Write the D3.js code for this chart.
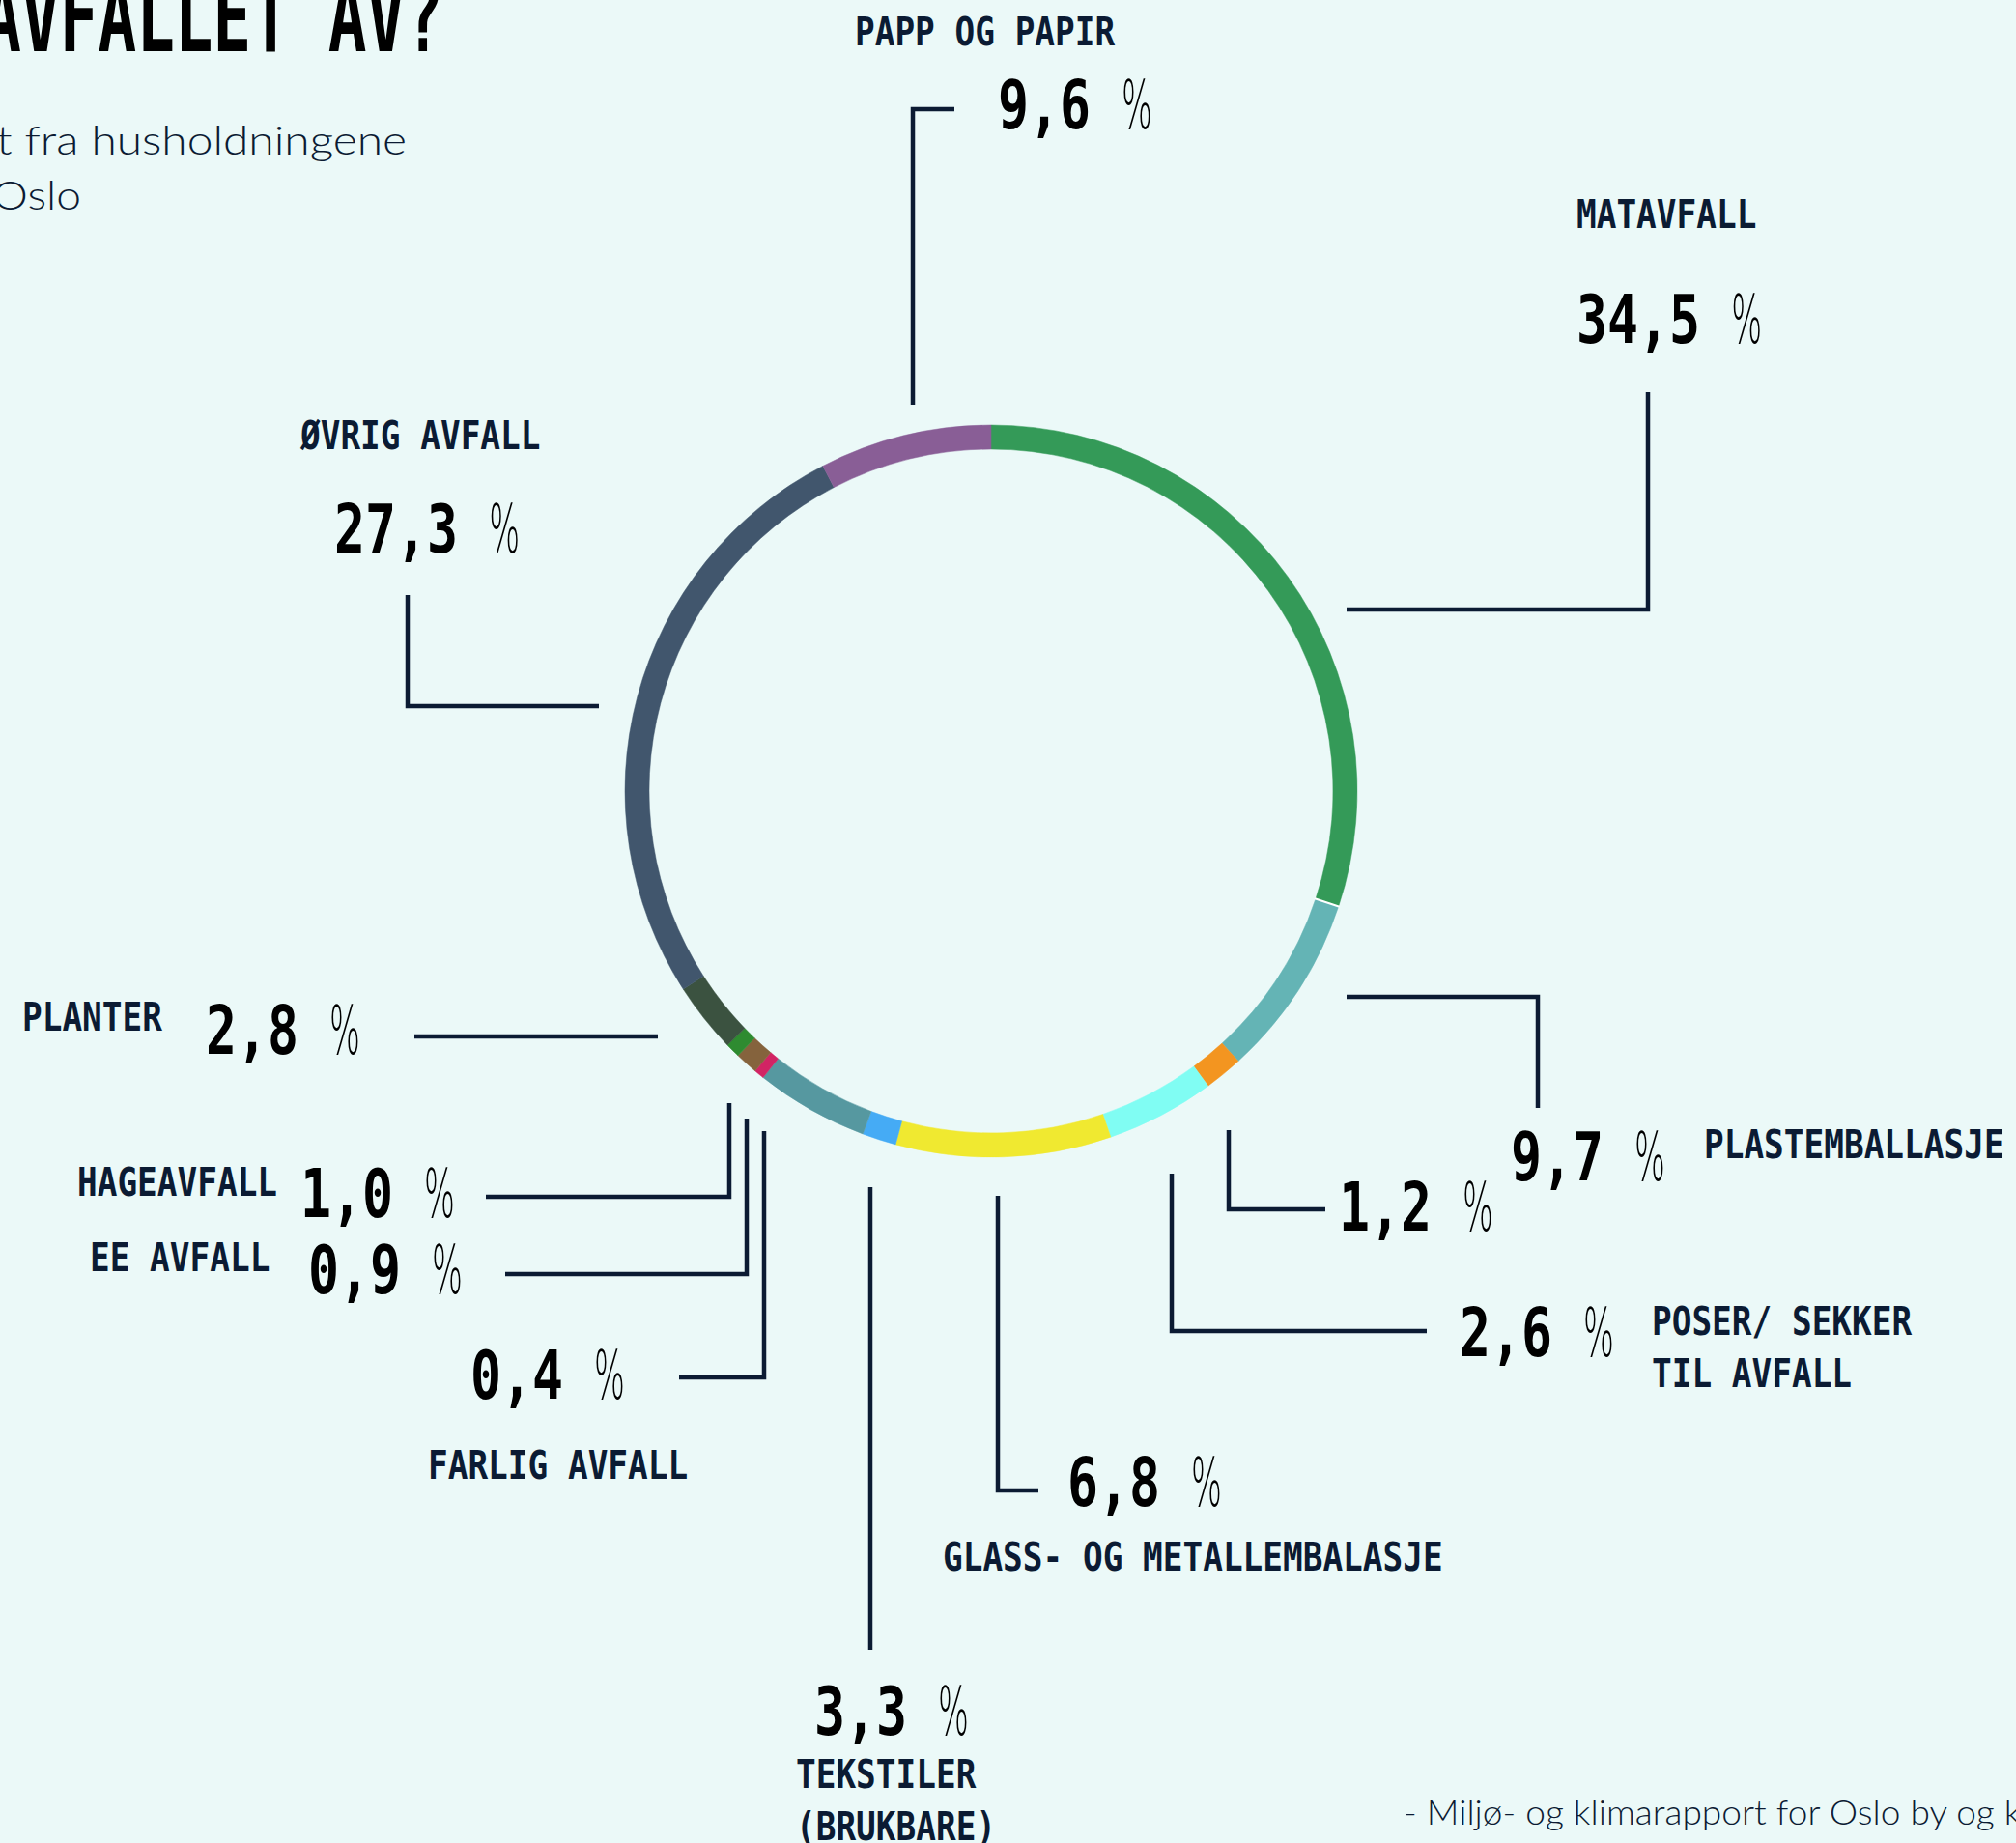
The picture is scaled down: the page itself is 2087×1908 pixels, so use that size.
<!DOCTYPE html>
<html>
<head>
<meta charset="utf-8">
<script src="https://cdnjs.cloudflare.com/ajax/libs/d3/7.8.5/d3.min.js"></script>
<style>
  html, body { margin: 0; padding: 0; background: #ebf9f8; overflow: hidden; }
  svg { display: block; }
  .mono { font-family: "DejaVu Sans Mono", "Liberation Mono", monospace; }
  .thin { font-family: Lato, "Open Sans", sans-serif; font-weight: 300; fill: #0b1b33; }
</style>
</head>
<body>
<svg width="2087" height="1908"></svg>
<script>
var arcNames = ['Matavfall', 'Plastemballasje', 'Ukjent (oransje)', 'Poser/ sekker til avfall',
    'Glass- og metallemballasje', 'Ukjent (blå)', 'Tekstiler (brukbare)', 'Farlig avfall',
    'EE avfall', 'Hageavfall', 'Planter', 'Øvrig avfall', 'Papp og papir'];
var arcShares = [30.1, 8.1, 1.7, 4.8, 9.5, 1.5, 5.0, 0.45, 1.0, 0.65, 3.1, 26.5, 7.6];
var arcColors = ['#349a58', '#64b4b5', '#f39520', '#80fdf3', '#f0e930', '#45abf5', '#5698a0',
    '#d22464', '#85633d', '#2e8b30', '#3b5240', '#41566d', '#895e96'];

// printed labels and percentages
var labelNames = ['MATAVFALL', 'PLASTEMBALLASJE', '', 'POSER/ SEKKER|TIL AVFALL',
    'GLASS- OG METALLEMBALASJE', 'TEKSTILER|(BRUKBARE)', 'FARLIG AVFALL', 'EE AVFALL',
    'HAGEAVFALL', 'PLANTER', 'ØVRIG AVFALL', 'PAPP OG PAPIR'];
var labelValues = [34.5, 9.7, 1.2, 2.6, 6.8, 3.3, 0.4, 0.9, 1.0, 2.8, 27.3, 9.6];

var svg = d3.select('svg');
var width = +svg.attr('width');
var height = +svg.attr('height');

var ink = '#0b1b33';
var cx = 1026, cy = 819;
var outerR = 379, innerR = 354;
var valSize = 70, valScale = 0.76;

// layout for each label: label pos (l), value pos (v), leader polyline (p)
var layout = [
    {l: [1632, 236], v: [1632, 355], p: [[1706, 406], [1706, 631], [1394, 631]]},
    {l: [1764, 1199], v: [1564, 1222], p: [[1394, 1032], [1592, 1032], [1592, 1147]]},
    {l: null, v: [1386, 1274], p: [[1272, 1170], [1272, 1252], [1372, 1252]]},
    {l: [1710, 1382], v: [1511, 1404], p: [[1213, 1215], [1213, 1378], [1477, 1378]]},
    {l: [976, 1626], v: [1105, 1559], p: [[1033, 1238], [1033, 1543], [1075, 1543]]},
    {l: [824, 1851], v: [843, 1796], p: [[901, 1229], [901, 1708]]},
    {l: [443, 1531], v: [487, 1448], p: [[791, 1171], [791, 1426], [703, 1426]]},
    {l: [93, 1316], v: [319, 1339], p: [[773, 1158], [773, 1319], [523, 1319]]},
    {l: [80, 1238], v: [311, 1260], p: [[755, 1142], [755, 1239], [503, 1239]]},
    {l: [23, 1067], v: [213, 1091], p: [[429, 1073], [681, 1073]]},
    {l: [311, 465], v: [346, 572], p: [[422, 616], [422, 731], [620, 731]]},
    {l: [885, 47], v: [1033, 133], p: [[988, 113], [945, 113], [945, 419]]}
];

var nb = d3.formatLocale({decimal: ',', thousands: ' ', grouping: [3], currency: ['', ' kr']});
var fmt = nb.format('.1f');

svg.append('rect')
    .attr('width', width)
    .attr('height', height)
    .attr('fill', '#ebf9f8');

// Title and subtitle (cut off at the left edge like the source)
svg.append('text')
    .attr('class', 'mono')
    .attr('transform', 'translate(459,53) scale(0.66,1)')
    .attr('text-anchor', 'end')
    .attr('font-size', 100)
    .attr('font-weight', 'bold')
    .attr('fill', '#000')
    .text('AVFALLET AV?');

svg.append('text')
    .attr('class', 'thin')
    .attr('transform', 'translate(421,160) scale(1.14,1)')
    .attr('text-anchor', 'end')
    .attr('font-size', 42)
    .text('t fra husholdningene');

svg.append('text')
    .attr('class', 'thin')
    .attr('transform', 'translate(84,217) scale(1.1,1)')
    .attr('text-anchor', 'end')
    .attr('font-size', 42)
    .text('Oslo');

// Ring
var color = d3.scaleOrdinal().domain(arcNames).range(arcColors);

var pie = d3.pie()
    .sort(null)
    .value(function(d) { return d.share; });

var arc = d3.arc()
    .innerRadius(innerR)
    .outerRadius(outerR);

var arcData = arcNames.map(function(n, i) { return {name: n, share: arcShares[i]}; });

var ringG = svg.append('g')
    .attr('transform', 'translate(' + [cx, cy] + ')');

ringG.selectAll('.slice')
    .data(pie(arcData))
    .enter()
    .append('path')
    .attr('class', 'slice')
    .attr('d', arc)
    .attr('fill', function(d) { return color(d.data.name); })
    .attr('stroke', function(d) { return color(d.data.name); })
    .attr('stroke-width', 0.5);

// small white notch between matavfall and plast
var notch = pie(arcData)[1].startAngle;
ringG.append('line')
    .attr('x1', Math.sin(notch) * (innerR - 1))
    .attr('y1', -Math.cos(notch) * (innerR - 1))
    .attr('x2', Math.sin(notch) * (outerR + 1))
    .attr('y2', -Math.cos(notch) * (outerR + 1))
    .attr('stroke', '#ffffff')
    .attr('stroke-width', 2);

// Leaders and labels
var line = d3.line();
var labelG = svg.append('g');

labelNames.forEach(function(name, i) {
    var pos = layout[i];
    var num = fmt(labelValues[i]);

    labelG.append('path')
        .attr('d', line(pos.p))
        .attr('fill', 'none')
        .attr('stroke', ink)
        .attr('stroke-width', 4.5)
        .attr('stroke-linejoin', 'miter');

    var valG = labelG.append('g')
        .attr('transform', 'translate(' + pos.v + ')');
    valG.append('text')
        .attr('class', 'mono')
        .attr('transform', 'scale(' + valScale + ',1)')
        .attr('font-size', valSize)
        .attr('font-weight', 'bold')
        .attr('fill', '#000')
        .text(num);
    // thin percent sign, one monospace cell after the number
    valG.append('text')
        .attr('transform', 'translate(' + ((num.length + 1) * valSize * 0.602 * valScale) + ',0) scale(0.48,1)')
        .attr('font-family', '"DejaVu Sans", sans-serif')
        .attr('font-weight', 200)
        .attr('font-size', valSize)
        .attr('fill', '#000')
        .text('%');

    if (pos.l) {
        var lab = labelG.append('text')
            .attr('class', 'mono')
            .attr('transform', 'translate(' + pos.l + ') scale(0.86,1)')
            .attr('font-size', 40)
            .attr('font-weight', 'bold')
            .attr('fill', ink);
        name.split('|').forEach(function(part, k) {
            lab.append('tspan')
                .attr('x', 0)
                .attr('dy', k ? 54 : 0)
                .text(part);
        });
    }
});

// Source
svg.append('text')
    .attr('class', 'thin')
    .attr('transform', 'translate(1453,1889) scale(1.03,1)')
    .attr('font-size', 36)
    .text('- Miljø- og klimarapport for Oslo by og kommune');
</script>
</body>
</html>
